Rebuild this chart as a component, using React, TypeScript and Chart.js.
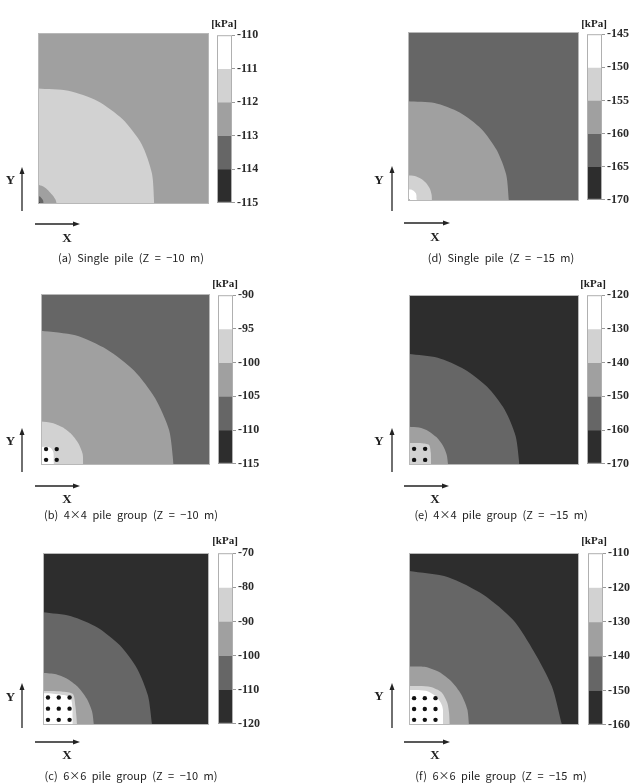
import React, { useEffect, useRef } from 'react';
import { Chart, registerables } from 'chart.js';

Chart.register(...registerables);

// ---------- shared data ----------
const PALETTE = ['#ffffff', '#d2d2d2', '#a0a0a0', '#666666', '#2d2d2d'];
// angles (deg) at which the contour radii are read, from the Y axis to the X axis
const ANGLES = [90, 75, 60, 45, 30, 15, 0];

// ---------- (a) Single pile, Z = -10 m ----------
const ticksA = [-110, -111, -112, -113, -114, -115];
const bgA = 2;
const bandsA = [1, 2, 3, 4];
const radiiA = [
  [67.5, 68.5, 69.5, 70, 70, 69, 68],
  [11.3, 10.8, 10.2, 9.8, 10, 10.5, 11],
  [4.7, 4.5, 4, 3.8, 3.6, 3.4, 3.3],
  [1.3, 1.3, 1.3, 1.3, 1.3, 1.3, 1.3],
];
const pilesA: number[] = [];

// ---------- (d) Single pile, Z = -15 m ----------
const ticksD = [-145, -150, -155, -160, -165, -170];
const bgD = 3;
const bandsD = [2, 1, 0, 4];
const radiiD = [
  [59, 60, 60.5, 60.5, 60, 59.5, 59],
  [15.3, 15.3, 15.2, 15, 14.7, 14.3, 14],
  [7, 7, 6.8, 6.5, 6, 5.5, 5],
  [1.2, 1.2, 1.2, 1.2, 1.2, 1.2, 1.2],
];
const pilesD: number[] = [];

// ---------- (b) 4x4 pile group, Z = -10 m ----------
const ticksB = [-90, -95, -100, -105, -110, -115];
const bgB = 3;
const bandsB = [2, 1, 0];
const radiiB = [
  [78.5, 78.5, 78, 78, 78, 78.5, 78.5],
  [25.5, 25.5, 25.5, 25.5, 25.5, 25.5, 25],
  [10.5, 11, 11.5, 10.5, 9, 8, 7.5],
];
const pilesB = [3, 9.3];

// ---------- (e) 4x4 pile group, Z = -15 m ----------
const ticksE = [-120, -130, -140, -150, -160, -170];
const bgE = 4;
const bandsE = [3, 2, 1];
const radiiE = [
  [65.3, 65.3, 65, 65, 65, 65, 65],
  [22.5, 22.8, 23, 23, 23, 23, 23],
  [13, 13.4, 14.8, 16.7, 14.8, 13.4, 13],
];
const pilesE = [3, 9.5];

// ---------- (c) 6x6 pile group, Z = -10 m ----------
const ticksC = [-70, -80, -90, -100, -110, -120];
const bgC = 4;
const bandsC = [3, 2, 1, 0];
const radiiC = [
  [65.5, 65.5, 65.5, 65.5, 65.5, 65.5, 65.7],
  [30.4, 30.5, 30.5, 30.5, 30.5, 30.6, 30.7],
  [19.8, 20.5, 22.5, 25.5, 22.5, 20.8, 20.5],
  [18.4, 19, 20.5, 23, 20.6, 18.4, 17.8],
];
const pilesC = [3, 9.5, 16];

// ---------- (f) 6x6 pile group, Z = -15 m ----------
const ticksF = [-110, -120, -130, -140, -150, -160];
const bgF = 4;
const bandsF = [3, 2, 1, 0];
const radiiF = [
  [89.5, 89, 87.5, 86.5, 85, 87, 90],
  [34, 35, 35.5, 35.5, 35.5, 35.5, 35.3],
  [22.7, 23.5, 25.5, 27, 26, 24.5, 24],
  [20.3, 21, 22.5, 23, 22.5, 21, 20],
];
const pilesF = [3, 9.3, 15.6];

// ---------- layout ----------
const LABEL_W = 36;
const CB_PAD = 8;
const SERIF = '"Liberation Serif", "Times New Roman", serif';
const SANS = '"Noto Sans CJK KR", "Noto Sans", sans-serif';

type Box = { left: number; top: number; w: number; h: number };

const bgPlugin = (color: string) => ({
  id: 'bgFill',
  beforeDatasetsDraw(chart: any) {
    const { ctx, chartArea: a } = chart;
    ctx.save();
    ctx.fillStyle = color;
    ctx.fillRect(a.left, a.top, a.right - a.left, a.bottom - a.top);
    ctx.restore();
  },
});

const framePlugin = (color: string) => ({
  id: 'frame',
  afterDatasetsDraw(chart: any) {
    const { ctx, chartArea: a } = chart;
    ctx.save();
    ctx.strokeStyle = color;
    ctx.lineWidth = 1;
    ctx.strokeRect(a.left + 0.5, a.top + 0.5, a.right - a.left - 1, a.bottom - a.top - 1);
    ctx.restore();
  },
});

function Panel(props: {
  plot: Box;
  cb: Box;
  ticks: number[];
  bg: number;
  bands: number[];
  radii: number[][];
  piles: number[];
}) {
  const { plot, cb, ticks, bg, bands, radii, piles } = props;
  const plotRef = useRef<HTMLCanvasElement>(null);
  const cbRef = useRef<HTMLCanvasElement>(null);

  useEffect(() => {
    const rad = Math.PI / 180;
    const toPts = (r: number[]) =>
      r.map((v, i) => ({ x: v * Math.cos(ANGLES[i] * rad), y: v * Math.sin(ANGLES[i] * rad) }));
    const datasets: any[] = radii.map((r, i) => ({
      type: 'line',
      data: toPts(r),
      fill: 'origin',
      backgroundColor: PALETTE[bands[i]],
      borderColor: 'rgba(0,0,0,0)',
      borderWidth: 0,
      pointRadius: 0,
      pointHoverRadius: 0,
      tension: 0.25,
      order: radii.length - i + 1,
    }));
    if (piles.length) {
      const pts: { x: number; y: number }[] = [];
      for (const py of piles) for (const px of piles) pts.push({ x: px, y: py });
      datasets.push({
        type: 'scatter',
        data: pts,
        showLine: false,
        pointRadius: 2.2,
        pointHoverRadius: 2.2,
        pointBackgroundColor: '#111111',
        pointBorderWidth: 0,
        pointBorderColor: '#111111',
        order: 0,
      });
    }
    const c1 = new Chart(plotRef.current as HTMLCanvasElement, {
      type: 'line',
      data: { datasets },
      options: {
        animation: false,
        responsive: false,
        maintainAspectRatio: false,
        events: [],
        layout: { padding: 0, autoPadding: false },
        plugins: { legend: { display: false }, tooltip: { enabled: false } },
        scales: {
          x: { type: 'linear', min: 0, max: 100, display: false },
          y: { type: 'linear', min: 0, max: 100, display: false },
        },
      } as any,
      plugins: [bgPlugin(PALETTE[bg]), framePlugin('#b8b8b8')],
    });

    const ranges = ticks.slice(0, -1).map((t, i) => [ticks[i + 1], t]);
    const c2 = new Chart(cbRef.current as HTMLCanvasElement, {
      type: 'bar',
      data: {
        labels: [''],
        datasets: ranges.map((rg, i) => ({
          data: [rg],
          backgroundColor: PALETTE[i],
          borderWidth: 0,
          barPercentage: 1,
          categoryPercentage: 1,
          grouped: false,
        })),
      } as any,
      options: {
        animation: false,
        responsive: false,
        maintainAspectRatio: false,
        events: [],
        layout: { padding: { top: CB_PAD, bottom: CB_PAD, left: 0, right: 0 }, autoPadding: false },
        plugins: { legend: { display: false }, tooltip: { enabled: false } },
        scales: {
          x: { display: false },
          y: {
            position: 'right',
            min: ticks[ticks.length - 1],
            max: ticks[0],
            afterFit: (s: any) => {
              s.width = LABEL_W;
            },
            border: { display: false },
            grid: { drawOnChartArea: false, drawTicks: true, tickLength: 3, color: '#9a9a9a' },
            ticks: {
              stepSize: ticks[0] - ticks[1],
              padding: 2,
              color: '#2a2a2a',
              font: { family: SERIF, size: 12, weight: 'bold' },
              callback: (v: any) => String(v),
            },
          },
        },
      } as any,
      plugins: [framePlugin('#b0b0b0')],
    });
    return () => {
      c1.destroy();
      c2.destroy();
    };
  }, []);

  return (
    <>
      <canvas
        ref={plotRef}
        width={plot.w}
        height={plot.h}
        style={{ position: 'absolute', left: plot.left, top: plot.top, width: plot.w, height: plot.h }}
      />
      <canvas
        ref={cbRef}
        width={cb.w + LABEL_W}
        height={cb.h + 2 * CB_PAD}
        style={{
          position: 'absolute',
          left: cb.left,
          top: cb.top - CB_PAD,
          width: cb.w + LABEL_W,
          height: cb.h + 2 * CB_PAD,
        }}
      />
    </>
  );
}

function Label(props: { x: number; y: number; text: string; font: string; size: number; bold?: boolean; ws?: number }) {
  const { x, y, text, font, size, bold, ws } = props;
  return (
    <div
      style={{
        position: 'absolute',
        left: x,
        top: y,
        transform: 'translate(-50%, -50%)',
        whiteSpace: 'pre',
        fontFamily: font,
        fontSize: size,
        fontWeight: bold ? 'bold' : 'normal',
        lineHeight: 1,
        color: '#222',
        wordSpacing: ws ? ws : 0,
      }}
    >
      {text}
    </div>
  );
}

type PanelDef = {
  plot: Box;
  cb: Box;
  ticks: number[];
  bg: number;
  bands: number[];
  radii: number[][];
  piles: number[];
  yArrow: [number, number, number];
  xArrow: [number, number, number];
  yLab: [number, number];
  xLab: [number, number];
  kpa: [number, number];
  cap: [number, number];
  caption: string;
};

const PANELS: PanelDef[] = [
  {
    plot: { left: 38, top: 33, w: 171, h: 171 },
    cb: { left: 217, top: 34, w: 15, h: 170 },
    ticks: ticksA, bg: bgA, bands: bandsA, radii: radiiA, piles: pilesA,
    yArrow: [22, 211, 167], xArrow: [35, 80, 224], yLab: [10.5, 179], xLab: [67, 237], kpa: [224, 22.5],
    cap: [131, 257], caption: '(a) Single pile (Z = −10 m)',
  },
  {
    plot: { left: 408, top: 32, w: 171, h: 169 },
    cb: { left: 587, top: 33, w: 15, h: 168 },
    ticks: ticksD, bg: bgD, bands: bandsD, radii: radiiD, piles: pilesD,
    yArrow: [392, 211, 166], xArrow: [404, 450, 223], yLab: [379, 179], xLab: [435, 236], kpa: [594, 22.5],
    cap: [501, 257], caption: '(d) Single pile (Z = −15 m)',
  },
  {
    plot: { left: 41, top: 294, w: 169, h: 171 },
    cb: { left: 218, top: 294, w: 15, h: 171 },
    ticks: ticksB, bg: bgB, bands: bandsB, radii: radiiB, piles: pilesB,
    yArrow: [22, 472, 428], xArrow: [35, 80, 486], yLab: [10.5, 440], xLab: [67, 498], kpa: [225, 283],
    cap: [131, 513.5], caption: '(b) 4×4 pile group (Z = −10 m)',
  },
  {
    plot: { left: 409, top: 295, w: 170, h: 170 },
    cb: { left: 587, top: 294, w: 15, h: 171 },
    ticks: ticksE, bg: bgE, bands: bandsE, radii: radiiE, piles: pilesE,
    yArrow: [392, 472, 428], xArrow: [404, 449, 486], yLab: [379, 440], xLab: [435, 498], kpa: [593, 282.5],
    cap: [501, 514], caption: '(e) 4×4 pile group (Z = −15 m)',
  },
  {
    plot: { left: 43, top: 553, w: 166, h: 172 },
    cb: { left: 218, top: 552, w: 15, h: 173 },
    ticks: ticksC, bg: bgC, bands: bandsC, radii: radiiC, piles: pilesC,
    yArrow: [22, 728, 683], xArrow: [35, 80, 742], yLab: [10.5, 696], xLab: [67, 754], kpa: [225, 540],
    cap: [131, 775], caption: '(c) 6×6 pile group (Z = −10 m)',
  },
  {
    plot: { left: 409, top: 553, w: 170, h: 172 },
    cb: { left: 588, top: 552, w: 15, h: 174 },
    ticks: ticksF, bg: bgF, bands: bandsF, radii: radiiF, piles: pilesF,
    yArrow: [392, 728, 683], xArrow: [404, 450, 742], yLab: [379, 695], xLab: [435, 754], kpa: [594, 540],
    cap: [501, 775], caption: '(f) 6×6 pile group (Z = −15 m)',
  },
];

export default function App() {
  return (
    <div
      style={{
        position: 'fixed',
        left: 0,
        top: 0,
        width: 637,
        height: 783,
        background: '#ffffff',
        overflow: 'hidden',
      }}
    >
      {PANELS.map((p, i) => (
        <Panel key={i} plot={p.plot} cb={p.cb} ticks={p.ticks} bg={p.bg} bands={p.bands} radii={p.radii} piles={p.piles} />
      ))}
      <svg width={637} height={783} style={{ position: 'absolute', left: 0, top: 0 }}>
        {PANELS.map((p, i) => {
          const [yx, yb, yt] = p.yArrow;
          const [xl, xr, xy] = p.xArrow;
          return (
            <g key={i} stroke="#222" fill="#222">
              <line x1={yx} y1={yb} x2={yx} y2={yt + 5} strokeWidth={1.3} />
              <polygon points={`${yx},${yt} ${yx - 2.5},${yt + 7} ${yx + 2.5},${yt + 7}`} strokeWidth={0} />
              <line x1={xl} y1={xy} x2={xr - 5} y2={xy} strokeWidth={1.3} />
              <polygon points={`${xr},${xy} ${xr - 7},${xy - 2.5} ${xr - 7},${xy + 2.5}`} strokeWidth={0} />
            </g>
          );
        })}
      </svg>
      {PANELS.map((p, i) => (
        <React.Fragment key={'t' + i}>
          <Label x={p.yLab[0]} y={p.yLab[1]} text="Y" font={SERIF} size={13} bold />
          <Label x={p.xLab[0]} y={p.xLab[1]} text="X" font={SERIF} size={13} bold />
          <Label x={p.kpa[0]} y={p.kpa[1]} text="[kPa]" font={SERIF} size={11} bold />
          <Label x={p.cap[0]} y={p.cap[1]} text={p.caption} font={SANS} size={11} ws={3} />
        </React.Fragment>
      ))}
    </div>
  );
}
